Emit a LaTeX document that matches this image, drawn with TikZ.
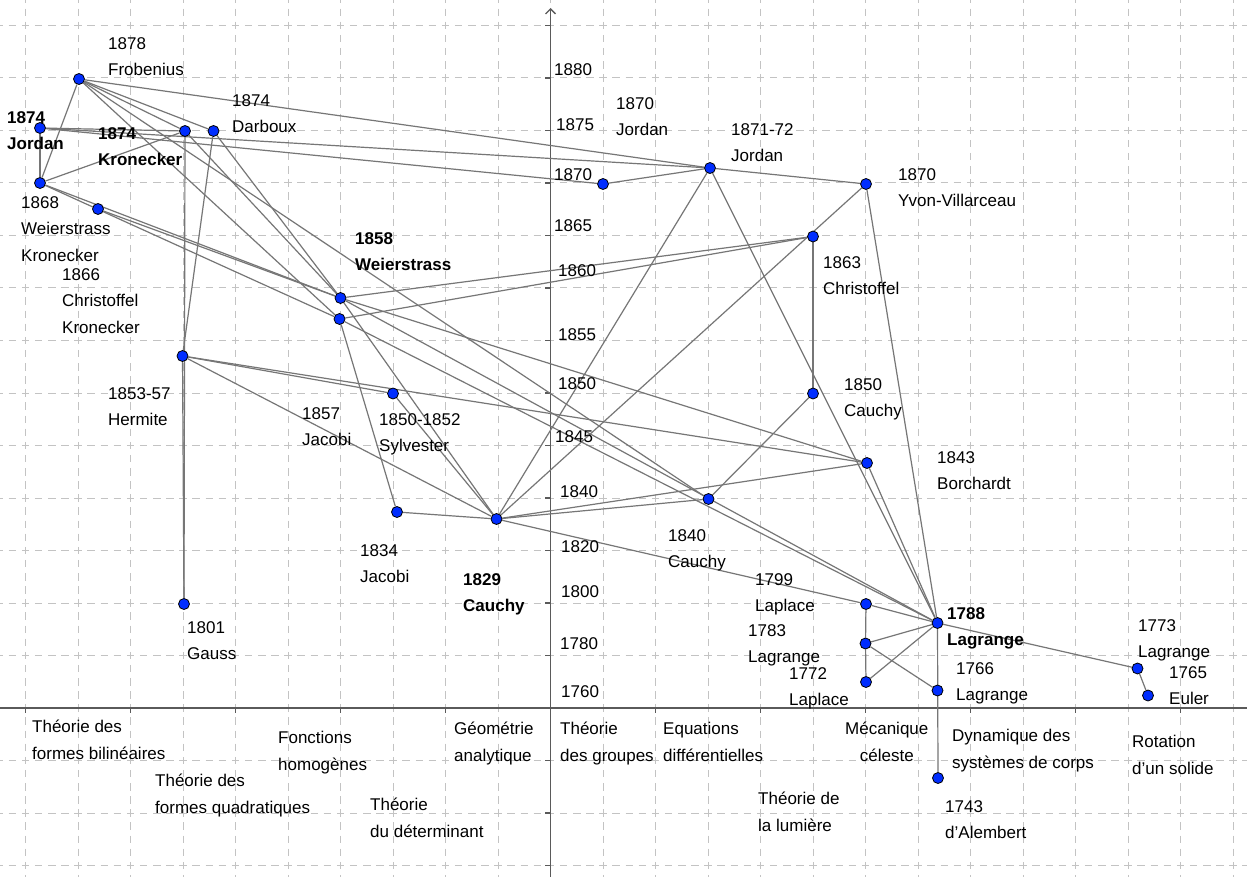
\documentclass[tikz,border=0pt]{standalone}
\usepackage{fontspec}
\setmainfont{Liberation Sans}
\usetikzlibrary{arrows.meta}
\pgfdeclarelayer{bg}
\pgfdeclarelayer{edgelayer}
\pgfsetlayers{bg,edgelayer,main}
\definecolor{gridc}{RGB}{195,195,195}
\definecolor{axisc}{RGB}{90,90,90}
\definecolor{edgec}{RGB}{118,118,118}
\definecolor{ptc}{RGB}{0,45,255}
\begin{document}
\begin{tikzpicture}[x=1pt,y=-1pt,
  pt/.style={circle,fill=ptc,draw=black,line width=0.8pt,inner sep=0pt,minimum size=11pt},
  lbl/.style={anchor=north west,inner sep=0pt,align=left,font=\fontsize{17}{26.5}\selectfont},
  blbl/.style={lbl,font=\fontsize{17}{26.5}\selectfont\bfseries},
  clbl/.style={anchor=north west,inner sep=0pt,align=center,font=\fontsize{17}{26.5}\selectfont},
  axl/.style={anchor=north west,inner sep=0pt,font=\fontsize{17}{20}\selectfont},
  edge/.style={draw=edgec,line width=1.2pt}]
\useasboundingbox (0,0) rectangle (1247,877);
\begin{pgfonlayer}{bg}
\clip (0,0) rectangle (1247,877);
\fill[white] (0,0) rectangle (1247,877);
\foreach \i in {-11,...,13} {
  \draw[gridc,line width=1pt,dash pattern=on 7.5pt off 5.625pt,dash phase=3.75pt]
    (550.5+52.5*\i,-27) -- (550.5+52.5*\i,920);
}
\foreach \j in {-4,...,13} {
  \draw[gridc,line width=1pt,dash pattern=on 7.5pt off 5.625pt,dash phase=3.75pt]
    (-27,708-52.5*\j) -- (1300,708-52.5*\j);
}
\draw[axisc,line width=1.4pt] (0,708) -- (1247,708);
\draw[axisc,line width=1.4pt,-{Straight Barb[length=5pt,width=10pt]}] (550.5,877) -- (550.5,8);
\foreach \j in {-3,...,13} { \draw[axisc,line width=1.2pt] (545,708-52.5*\j) -- (550.5,708-52.5*\j); }
\foreach \i in {-5,...,6} { \draw[axisc,line width=1.2pt] (550.5+105*\i,708) -- (550.5+105*\i,713); }
\end{pgfonlayer}

% axis year labels
\node[axl] (y1880) at (554,63) {1880};
\node[axl] (y1875) at (556,118) {1875};
\node[axl] (y1870) at (554,168) {1870};
\node[axl] (y1865) at (554,219) {1865};
\node[axl] (y1860) at (558,264) {1860};
\node[axl] (y1855) at (558,328) {1855};
\node[axl] (y1850) at (558,377) {1850};
\node[axl] (y1845) at (555,430) {1845};
\node[axl] (y1840) at (560,485) {1840};
\node[axl] (y1820) at (561,540) {1820};
\node[axl] (y1800) at (561,585) {1800};
\node[axl] (y1780) at (560,637) {1780};
\node[axl] (y1760) at (561,685) {1760};

% points
\node[pt] (frob) at (79,79) {};
\node[pt] (jor74) at (40,128) {};
\node[pt] (kron) at (185,131) {};
\node[pt] (darb) at (213.5,131) {};
\node[pt] (k68) at (40,183) {};
\node[pt] (c66) at (98,209) {};
\node[pt] (w58) at (340.5,298) {};
\node[pt] (j57) at (339.5,319) {};
\node[pt] (herm) at (182.5,356) {};
\node[pt] (sylv) at (393,393.5) {};
\node[pt] (j34) at (397,512) {};
\node[pt] (cau29) at (496.5,519) {};
\node[pt] (gauss) at (184,604) {};
\node[pt] (jor70) at (603,184) {};
\node[pt] (jor7172) at (710,168) {};
\node[pt] (yvon) at (866,184) {};
\node[pt] (chr63) at (813,236.5) {};
\node[pt] (cau50) at (813,393.5) {};
\node[pt] (borch) at (867,463) {};
\node[pt] (cau40) at (708.5,499) {};
\node[pt] (lap99) at (866,604) {};
\node[pt] (lag88) at (937.5,623) {};
\node[pt] (lag83) at (865.5,643.5) {};
\node[pt] (lap72) at (866,682) {};
\node[pt] (lag66) at (937.5,690.5) {};
\node[pt] (dal43) at (938,778) {};
\node[pt] (lag73) at (1137.5,668.5) {};
\node[pt] (eul65) at (1148,695.5) {};

% connectors
\begin{pgfonlayer}{edgelayer}
\draw[edge] (frob) -- (k68);
\draw[edge] (frob) -- (jor7172);
\draw[edge] (frob) -- (darb);
\draw[edge] (frob) -- (kron);
\draw[edge] (frob) -- (j57);
\draw[edge] (frob) -- (cau40);
\draw[edge] (jor74) -- (kron);
\draw[edge] (jor74) -- (jor70);
\draw[edge] (jor74) -- (jor7172);
\draw[edge] (jor74) -- (k68);
\draw[edge] (k68) -- (kron);
\draw[edge] (k68) -- (w58);
\draw[edge] (k68) -- (j57);
\draw[edge] (c66) -- (w58);
\draw[edge] (kron) -- (gauss);
\draw[edge] (herm) -- (gauss);
\draw[edge] (kron) -- (w58);
\draw[edge] (darb) -- (herm);
\draw[edge] (darb) -- (w58);
\draw[edge] (herm) -- (sylv);
\draw[edge] (herm) -- (borch);
\draw[edge] (herm) -- (cau29);
\draw[edge] (sylv) -- (cau29);
\draw[edge] (w58) -- (cau29);
\draw[edge] (j57) -- (j34);
\draw[edge] (j34) -- (cau29);
\draw[edge] (w58) -- (chr63);
\draw[edge] (j57) -- (chr63);
\draw[edge] (w58) -- (borch);
\draw[edge] (w58) -- (lag88);
\draw[edge] (j57) -- (lag88);
\draw[edge] (cau29) -- (jor7172);
\draw[edge] (cau29) -- (yvon);
\draw[edge] (cau29) -- (borch);
\draw[edge] (cau29) -- (cau40);
\draw[edge] (cau29) -- (lap99);
\draw[edge] (cau40) -- (cau50);
\draw[edge] (chr63) -- (cau50);
\draw[edge] (jor70) -- (jor7172);
\draw[edge] (jor7172) -- (yvon);
\draw[edge] (jor7172) -- (lag88);
\draw[edge] (yvon) -- (lag88);
\draw[edge] (borch) -- (lag88);
\draw[edge] (lap99) -- (lag88);
\draw[edge] (lap99) -- (lag83);
\draw[edge] (lag83) -- (lap72);
\draw[edge] (lag83) -- (lag88);
\draw[edge] (lap72) -- (lag88);
\draw[edge] (lag83) -- (lag66);
\draw[edge] (lag88) -- (dal43);
\draw[edge] (lag88) -- (lag73);
\draw[edge] (lag73) -- (eul65);
\end{pgfonlayer}

% point labels
\node[lbl] (tfrob) at (108,37) {1878\\Frobenius};
\node[blbl] (tjor74) at (7,111) {1874\\Jordan};
\node[blbl] (tkron) at (98,127) {1874\\Kronecker};
\node[lbl] (tdarb) at (232,94) {1874\\Darboux};
\node[lbl] (tk68) at (21,196) {1868\\Weierstrass\\Kronecker};
\node[lbl] (tc66) at (62,268) {1866\\Christoffel\\Kronecker};
\node[blbl] (tw58) at (355,232) {1858\\Weierstrass};
\node[lbl] (therm) at (108,387) {1853-57\\Hermite};
\node[lbl] (tj57) at (302,407) {1857\\Jacobi};
\node[lbl] (tsylv) at (379,413) {1850-1852\\Sylvester};
\node[lbl] (tj34) at (360,544) {1834\\Jacobi};
\node[blbl] (tcau29) at (463,573) {1829\\Cauchy};
\node[lbl] (tgauss) at (187,621) {1801\\Gauss};
\node[lbl] (tjor70) at (616,97) {1870\\Jordan};
\node[lbl] (tjor7172) at (731,123) {1871-72\\Jordan};
\node[lbl] (tyvon) at (898,168) {1870\\Yvon-Villarceau};
\node[lbl] (tchr63) at (823,256) {1863\\Christoffel};
\node[lbl] (tcau50) at (844,378) {1850\\Cauchy};
\node[lbl] (tborch) at (937,451) {1843\\Borchardt};
\node[lbl] (tcau40) at (668,529) {1840\\Cauchy};
\node[lbl] (tlap99) at (755,573) {1799\\Laplace};
\node[lbl] (tlag83) at (748,624) {1783\\Lagrange};
\node[lbl] (tlap72) at (789,667) {1772\\Laplace};
\node[blbl] (tlag88) at (947,607) {1788\\Lagrange};
\node[lbl] (tlag66) at (956,662) {1766\\Lagrange};
\node[lbl] (tlag73) at (1138,619) {1773\\Lagrange};
\node[lbl] (teul65) at (1169,666) {1765\\Euler};
\node[lbl] (tdal43) at (945,800) {1743\\d'Alembert};

% domain labels
\node[lbl] (dbil) at (32,720) {Théorie des\\formes bilinéaires};
\node[lbl] (dquad) at (155,774) {Théorie des\\formes quadratiques};
\node[lbl] (dhom) at (278,731) {Fonctions\\homogènes};
\node[lbl] (ddet) at (370,798) {Théorie\\du déterminant};
\node[lbl] (dgeo) at (454,722) {Géométrie\\analytique};
\node[lbl] (dgrp) at (560,722) {Théorie\\des groupes};
\node[lbl] (deq) at (663,722) {Equations\\différentielles};
\node[lbl] (dlum) at (758,792) {Théorie de\\la lumière};
\node[clbl] (dmec) at (845,722) {Mécanique\\céleste};
\node[lbl] (ddyn) at (952,729) {Dynamique des\\systèmes de corps};
\node[lbl] (drot) at (1132,735) {Rotation\\d'un solide};
\end{tikzpicture}
\end{document}
